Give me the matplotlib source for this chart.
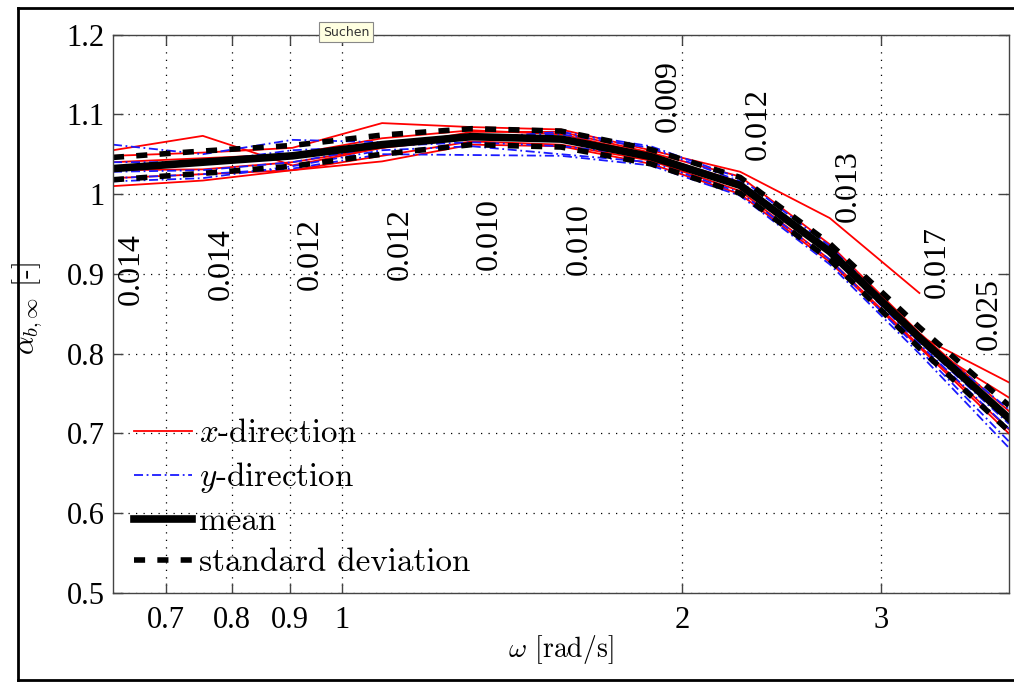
import numpy as np
import matplotlib.pyplot as plt
from matplotlib.lines import Line2D

plt.rcParams['font.family'] = 'serif'
plt.rcParams['font.serif'] = ['Liberation Serif', 'Times New Roman', 'DejaVu Serif']
plt.rcParams['mathtext.fontset'] = 'cm'

# frequencies [rad/s]
omega = [0.628, 0.754, 0.905, 1.086, 1.303, 1.563, 1.876, 2.251, 2.701, 3.242, 3.890]

# single runs, x-direction
x_dir = [
    [1.055, 1.073, 1.036, 1.058, 1.078, 1.078, 1.052, 1.022, 0.937, 0.826, 0.728],
    [1.048, 1.052, 1.058, 1.089, 1.084, 1.081, 1.055, 1.028, 0.970, 0.876, np.nan],
    [1.040, 1.045, 1.050, 1.070, 1.080, 1.075, 1.050, 1.015, 0.930, 0.822, 0.764],
    [1.030, 1.031, 1.040, 1.058, 1.070, 1.068, 1.045, 1.008, 0.925, 0.815, 0.745],
    [1.020, 1.025, 1.030, 1.048, 1.066, 1.062, 1.042, 1.004, 0.918, 0.810, 0.705],
    [1.010, 1.017, 1.030, 1.041, 1.062, 1.060, 1.038, 1.000, 0.915, 0.808, 0.700],
]

# single runs, y-direction
y_dir = [
    [1.062, 1.050, 1.068, 1.065, 1.070, 1.078, 1.060, 1.020, 0.935, 0.822, 0.730],
    [1.040, 1.040, 1.055, 1.060, 1.072, 1.075, 1.058, 1.016, 0.930, 0.815, 0.712],
    [1.028, 1.030, 1.040, 1.060, 1.065, 1.060, 1.048, 1.010, 0.925, 0.812, 0.706],
    [1.016, 1.020, 1.035, 1.055, 1.060, 1.050, 1.040, 1.002, 0.918, 0.805, 0.690],
    [1.020, 1.025, 1.032, 1.050, 1.049, 1.048, 1.036, 0.998, 0.912, 0.800, 0.682],
]

mean = [1.032, 1.040, 1.048, 1.062, 1.072, 1.069, 1.047, 1.011, 0.928, 0.820, 0.719]
sd = [0.014, 0.014, 0.013, 0.012, 0.010, 0.010, 0.009, 0.010, 0.010, 0.013, 0.016]

sd_labels = ['0.014', '0.014', '0.012', '0.012', '0.010', '0.010',
             '0.009', '0.012', '0.013', '0.017', '0.025']
label_y = [0.861, 0.867, 0.880, 0.892, 0.905, 0.899, 1.078, 1.043, 0.965, 0.870, 0.805]

x_ticks = [0.7, 0.8, 0.9, 1, 2, 3]
x_ticklabels = ['0.7', '0.8', '0.9', '1', '2', '3']
y_ticks = [0.5, 0.6, 0.7, 0.8, 0.9, 1.0, 1.1, 1.2]
y_ticklabels = ['0.5', '0.6', '0.7', '0.8', '0.9', '1', '1.1', '1.2']

mean = np.array(mean)
sd = np.array(sd)

fig = plt.figure(figsize=(10.14, 6.84), dpi=100)
ax = fig.add_axes([0.1114, 0.1330, 0.8836, 0.8165])

for i, row in enumerate(x_dir):
    ax.plot(omega, row, color='red', lw=1.3, label='$x$-direction' if i == 0 else None)
for i, row in enumerate(y_dir):
    ax.plot(omega, row, color='#1a1aff', lw=1.3, linestyle=(0, (5, 2, 1, 2)),
            label='$y$-direction' if i == 0 else None)

ax.plot(omega, mean, color='black', lw=5.5, label='mean')
sd_up, = ax.plot(omega, mean + sd, color='black', lw=4, label='standard deviation')
sd_lo, = ax.plot(omega, mean - sd, color='black', lw=4)
for ln in (sd_up, sd_lo):
    ln.set_dashes([2, 2.2])
    ln.set_dash_capstyle('butt')

# standard deviation values as rotated text
for k, (w, yl, s) in enumerate(zip(omega, label_y, sd_labels)):
    dx = -14 if k == len(omega) - 1 else 13
    ax.annotate(s, xy=(w, yl), xytext=(dx, 0), textcoords='offset points',
                rotation=90, ha='center', va='bottom', fontsize=23)

ax.set_xscale('log')
ax.set_xlim(omega[0], omega[-1])
ax.set_ylim(0.5, 1.2)
ax.set_xticks(x_ticks)
ax.set_xticklabels(x_ticklabels)
ax.xaxis.set_minor_locator(plt.NullLocator())
ax.set_yticks(y_ticks)
ax.set_yticklabels(y_ticklabels)

ax.grid(True, color='black', lw=0.9, linestyle=(0, (1, 5)))
ax.tick_params(direction='in', length=7, width=1, color='#444444', top=True, right=True,
               labelsize=22)
ax.tick_params(axis='x', pad=9)
ax.tick_params(axis='y', pad=6)
for sp in ax.spines.values():
    sp.set_color('#444444')
    sp.set_linewidth(1)

ax.set_xlabel(r'$\omega$ [rad/s]', fontsize=20, family='cmr10')
ax.xaxis.set_label_coords(0.5, -0.071)
ax.set_ylabel(r'$\alpha_{b,\infty}$ [-]', fontsize=21, family='cmr10')
ax.yaxis.set_label_coords(-0.076, 0.51)

leg = ax.legend(loc='lower left', bbox_to_anchor=(0.006, 0.0), frameon=False,
                prop={'family': 'cmr10', 'size': 23.8}, handlelength=1.75,
                handletextpad=0.2, labelspacing=0.36, borderaxespad=0.08)

# outer screenshot frame
fig.add_artist(Line2D([18 / 1014, 18 / 1014], [4 / 684, 676 / 684], color='black', lw=2))
fig.add_artist(Line2D([18 / 1014, 1.0], [676 / 684, 676 / 684], color='black', lw=2))
fig.add_artist(Line2D([18 / 1014, 1.0], [4 / 684, 4 / 684], color='black', lw=2))

# tooltip from the screenshot
fig.text(346 / 1014, 1 - 32 / 684, 'Suchen', fontsize=9, family='DejaVu Sans',
         ha='center', va='center', color='#333333',
         bbox=dict(boxstyle='square,pad=0.3', fc='#ffffe1', ec='#888888', lw=0.8))

fig.savefig('out.png', dpi=100)
